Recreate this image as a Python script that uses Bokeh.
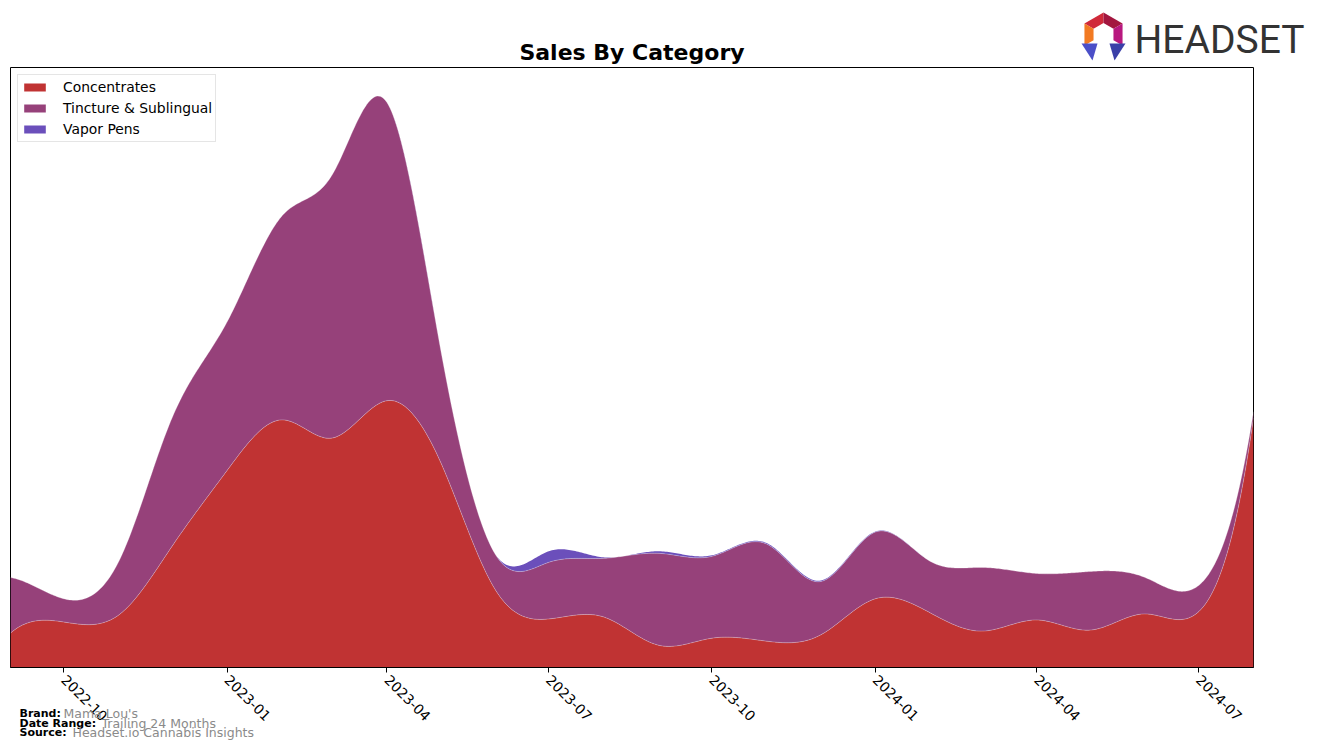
import math
import numpy as np
import pandas as pd
from bokeh.plotting import figure
from bokeh.models import Range1d, FixedTicker, DatetimeTickFormatter, Label, GridBox, Column
from bokeh.embed import file_html
from bokeh.resources import INLINE

# ---------------- data ----------------
months = pd.date_range("2022-09-01", periods=24, freq="MS")
concentrates = [34, 45, 52, 120, 195, 245, 227, 264, 204, 77, 48, 50,
                22, 29, 26, 32, 68, 54, 36, 47, 37, 53, 55, 247]
tincture = [55, 23, 53, 127, 147, 202, 260, 295, 113, 35, 56, 58,
            91, 81, 96, 53, 66, 51, 63, 46, 58, 36, 26, 6]
vapor_pens = [0, 0, 0, 0, 0, 0, 0, 0, 0, 0, 11, 1,
              2, 1, 1, 1, 0.5, 0, 0, 0, 0, 0, 0, 0]
series_names = ["Concentrates", "Tincture & Sublingual", "Vapor Pens"]
series_colors = ["#c03333", "#96417a", "#6b4fbb"]
tick_labels = ["2022-10", "2023-01", "2023-04", "2023-07",
               "2023-10", "2024-01", "2024-04", "2024-07"]

W, H = 1317, 748


def spline(x, y, xq):
    """not-a-knot cubic spline used only to draw smooth curves"""
    x = np.asarray(x, float)
    y = np.asarray(y, float)
    n = len(x)
    h = np.diff(x)
    A = np.zeros((n, n))
    b = np.zeros(n)
    for i in range(1, n - 1):
        A[i, i - 1] = h[i - 1]
        A[i, i] = 2 * (h[i - 1] + h[i])
        A[i, i + 1] = h[i]
        b[i] = 6 * ((y[i + 1] - y[i]) / h[i] - (y[i] - y[i - 1]) / h[i - 1])
    A[0, 0] = -h[1]
    A[0, 1] = h[0] + h[1]
    A[0, 2] = -h[0]
    A[-1, -3] = -h[-1]
    A[-1, -2] = h[-2] + h[-1]
    A[-1, -1] = -h[-2]
    M = np.linalg.solve(A, b)
    idx = np.clip(np.searchsorted(x, xq) - 1, 0, n - 2)
    x0 = x[idx]
    x1 = x[idx + 1]
    hh = x1 - x0
    t0 = x1 - xq
    t1 = xq - x0
    return (M[idx] * t0 ** 3 / (6 * hh) + M[idx + 1] * t1 ** 3 / (6 * hh)
            + (y[idx] / hh - M[idx] * hh / 6) * t0
            + (y[idx + 1] / hh - M[idx + 1] * hh / 6) * t1)


xd = np.array([(d - months[0]).days for d in months], dtype=float)
xq = np.linspace(0, xd[-1], 800)
ms0 = months[0].value / 1e6
xms = ms0 + xq * 86400000.0

c = np.clip(spline(xd, concentrates, xq), 0, None)
t = np.clip(spline(xd, tincture, xq), 0, None)
v = np.clip(spline(xd, vapor_pens, xq), 0, None)
s1 = c
s2 = c + t
s3 = s2 + v

p = figure(width=W, height=H, output_backend="svg", toolbar_location=None,
           x_axis_type="datetime", y_axis_location=None,
           x_range=Range1d(xms[0], xms[-1]), y_range=Range1d(0, 1.05 * s3.max()),
           min_border_left=10, min_border_right=64, min_border_top=67, min_border_bottom=81)

p.varea(x=xms, y1=np.zeros_like(s1), y2=s1, fill_color=series_colors[0], legend_label=series_names[0])
p.varea(x=xms, y1=s1, y2=s2, fill_color=series_colors[1], legend_label=series_names[1])
p.varea(x=xms, y1=s2, y2=s3, fill_color=series_colors[2], legend_label=series_names[2])
p.line(x=xms, y=s1, line_color="white", line_alpha=0.35, line_width=0.8)
p.line(x=xms, y=s2, line_color="white", line_alpha=0.35, line_width=0.8)

p.grid.visible = False
p.outline_line_color = "black"
p.outline_line_width = 1
p.background_fill_color = "white"
p.border_fill_color = "white"

tick_ms = [pd.Timestamp(s + "-01").value / 1e6 for s in tick_labels]
p.xaxis.ticker = FixedTicker(ticks=tick_ms)
fmt = "%Y-%m"
p.xaxis.formatter = DatetimeTickFormatter(years=fmt, months=fmt, days=fmt, hours=fmt,
                                          hourmin=fmt, minutes=fmt, minsec=fmt,
                                          seconds=fmt, milliseconds=fmt, microseconds=fmt)
p.xaxis.major_label_orientation = -math.pi / 4
p.xaxis.major_label_text_font = "DejaVu Sans"
p.xaxis.major_label_text_font_size = "13.9px"
p.xaxis.major_label_text_color = "black"
p.xaxis.major_tick_out = 5
p.xaxis.major_tick_in = 0
p.xaxis.minor_tick_out = 0
p.xaxis.minor_tick_in = 0
p.xaxis.axis_line_color = "black"
p.xaxis.major_tick_line_color = "black"

p.title.text = "Sales By Category"
p.title.align = "center"
p.title.text_font = "DejaVu Sans"
p.title.text_font_style = "bold"
p.title.text_font_size = "22px"
p.title.text_color = "black"
p.title.standoff = 5

lg = p.legend[0]
lg.location = "top_left"
lg.margin = 7
lg.padding = 3
lg.spacing = 3
lg.label_height = 18
lg.glyph_height = 10
lg.glyph_width = 27
lg.label_standoff = 15
lg.label_text_font = "DejaVu Sans"
lg.label_text_font_size = "13.9px"
lg.label_text_color = "black"
lg.border_line_color = "#cccccc"
lg.border_line_width = 1
lg.background_fill_alpha = 0.8

# ---------- transparent overlay for footer and logo ----------
o = figure(width=W, height=H, output_backend="svg", toolbar_location=None,
           x_axis_location=None, y_axis_location=None,
           x_range=Range1d(0, W), y_range=Range1d(H, 0),
           min_border=0, min_border_left=0, min_border_right=0,
           min_border_top=0, min_border_bottom=0)
o.grid.visible = False
o.outline_line_color = None
o.background_fill_alpha = 0
o.border_fill_alpha = 0

foot = [("Brand:", "Mama Lou's", 713, 63),
        ("Date Range:", "Trailing 24 Months", 723, 101),
        ("Source:", "Headset.io Cannabis Insights", 732, 72)]
for lab, val, yy, vx in foot:
    o.add_layout(Label(x=19, y=yy, text=lab,
                       text_font="DejaVu Sans", text_font_style="bold",
                       text_font_size="11px", text_baseline="middle", text_color="black"))
    o.add_layout(Label(x=vx, y=yy, text=val,
                       text_font="DejaVu Sans", text_font_size="12.5px",
                       text_baseline="middle", text_color="#8a8a8a"))

o.add_layout(Label(x=1134, y=39, text="HEADSET",
                   text_font="Roboto", text_font_size="39px",
                   text_baseline="middle", text_color="#333333"))

cx, cy, R, r = 1103, 34, 22, 11.5


def hv(rad, ang):
    a = math.radians(ang)
    return (cx + rad * math.cos(a), cy - rad * math.sin(a))


segs = [((150, 90), "#d02a3a"), ((90, 30), "#a3163f"), ((210, 150), "#f27a22"), ((30, -30), "#b8187f")]
pxs, pys, pcs = [], [], []
for (a1, a2), col in segs:
    pts = [hv(R, a1), hv(R, a2), hv(r, a2), hv(r, a1)]
    pxs.append([q[0] for q in pts])
    pys.append([q[1] for q in pts])
    pcs.append(col)
for xs, ys, col in [([1081, 1097, 1092], [43, 43, 60], "#4b4fc8"),
                    ([1109, 1125, 1114], [43, 43, 60], "#3a3fa8")]:
    pxs.append(xs)
    pys.append(ys)
    pcs.append(col)
o.patches(xs=pxs, ys=pys, fill_color=pcs, line_color=None)

layout = GridBox(children=[(Column(children=[p]), 0, 0), (Column(children=[o]), 0, 0)])
open("out.html", "w").write(file_html(layout, INLINE))
